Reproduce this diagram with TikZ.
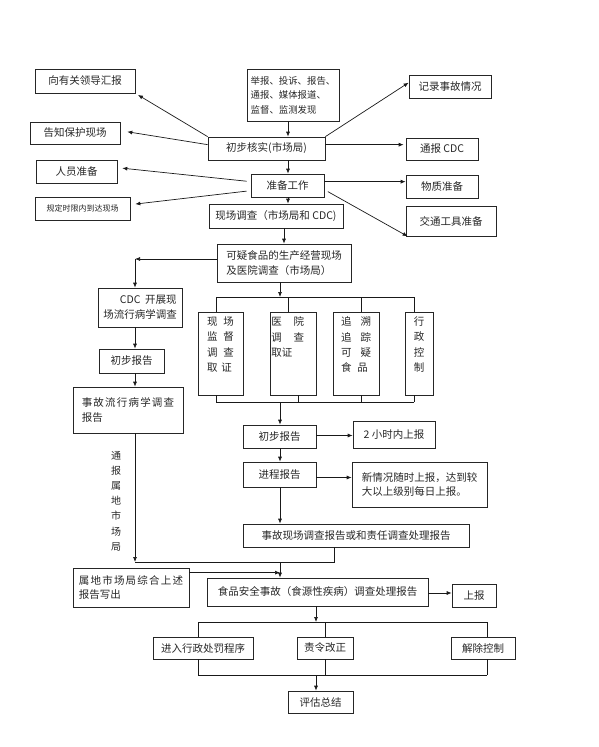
\documentclass[tikz,border=0pt]{standalone}
\usepackage{fontspec}
\setmainfont{Noto Sans CJK SC}
\usetikzlibrary{arrows.meta}
\newcommand\lsp[1]{\lspaux#1\relax}
\def\lspaux#1{\ifx#1\relax\else#1\hspace{1.2pt}\expandafter\lspaux\fi}
\tikzset{
  box/.style={draw=black!85, line width=0.7pt, inner sep=2pt, text=black!85,
    font=\fontsize{10.5}{14.5}\selectfont},
  txt/.style={inner sep=0pt, text=black!85, font=\fontsize{10.5}{15.3}\selectfont},
  arr/.style={draw=black!90, line width=0.7pt, -{Latex[length=5pt,width=4pt]}},
  ln/.style={draw=black!90, line width=0.7pt},
}
\newcommand\bx[6][]{\node[box,minimum width={(#4-#2)*1pt},minimum height={(#5-#3)*1pt},#1] (#6) at ({(#2+#4)/2},{(#3+#5)/2})}
\begin{document}
\begin{tikzpicture}[x=1pt,y=-1pt]
\useasboundingbox (0,0) rectangle (598,747);
% column coordinates
\coordinate (c288) at (288,0);
\coordinate (c284) at (284,0);
\coordinate (c280) at (280,0);
\coordinate (c135) at (135,0);
\coordinate (c316) at (316,0);
% top section
\bx{35}{69}{135}{93}{lead}{向有关领导汇报};
\bx[align=left,font=\fontsize{9.4}{14.5}\selectfont]{247}{69}{339}{121}{src}{举报、投诉、报告、\\通报、媒体报道、\\监督、监测发现};
\bx{409}{75}{491}{98}{rec}{记录事故情况};
\bx{30}{122}{120}{144}{prot}{告知保护现场};
\bx{208}{137}{325}{160}{verify}{初步核实(市场局)};
\bx{406}{138}{478}{160}{cdc}{通报 CDC};
\bx{36}{160}{117}{183}{staff}{人员准备};
\bx{251}{174}{324}{197}{prep}{准备工作};
\bx{406}{175}{478}{198}{mat}{物质准备};
\bx[font=\fontsize{8}{10}\selectfont]{35}{197}{130}{220}{arrive}{规定时限内到达现场};
\bx{209}{204}{343}{228}{survey}{现场调查（市场局和 CDC)};
\bx{406}{206}{496}{236}{trans}{交通工具准备};
\bx[align=left]{217}{244}{351}{282}{susp}{可疑食品的生产经营现场\\及医院调查（市场局）};
% left column
\bx[align=right]{98}{288}{182}{327}{cdcinv}{CDC\ \ 开展现\\场流行病学调查};
\bx{99}{349}{164}{373}{pre1}{初步报告};
\bx[align=left]{73}{387}{183}{433}{epi}{\lsp{事故流行病学调查}\\报告};
% four vertical boxes
\bx{198}{312}{243}{395}{v1}{};
\bx{270}{312}{316}{395}{v2}{};
\bx{333}{312}{379}{395}{v3}{};
\bx{405}{312}{433}{395}{v4}{};
\node[txt,align=left,anchor=north] (v1t) at ([yshift=-5pt]v1.north) {现\hspace{6pt}场\\监\hspace{6pt}督\\调\hspace{6pt}查\\取\hspace{4pt}证};
\node[txt,align=left,anchor=north] (v2t) at ([yshift=-5pt]v2.north) {医\hspace{12pt}院\\调\hspace{12pt}查\\取证\hspace{22.5pt}\mbox{}};
\node[txt,align=left,anchor=north] (v3t) at ([yshift=-5pt]v3.north) {追\hspace{9pt}溯\\追\hspace{9pt}踪\\可\hspace{9pt}疑\\食\hspace{6pt}品};
\node[txt,align=center,anchor=north] (v4t) at ([yshift=-5pt]v4.north) {行\\政\\控\\制};
% middle
\bx{243}{425}{316}{448}{pre2}{初步报告};
\bx{353}{421}{435}{448}{twoh}{2 小时内上报};
\bx{243}{462}{316}{487}{prog}{进程报告};
\bx[align=left]{352}{462}{487}{507}{newinfo}{新情况随时上报，达到较\\大以上级别每日上报。};
\bx{243}{524}{469}{547}{accrep}{事故现场调查报告或和责任调查处理报告};
\node[txt,align=center,font=\fontsize{10}{15.2}\selectfont] (vt) at (116,501) {通\\报\\属\\地\\市\\场\\局};
% bottom
\bx[align=left]{73}{568}{189}{607}{local}{\lsp{属地市场局综合上述}\\报告写出};
\bx{207}{578}{428}{606}{final}{食品安全事故（食源性疾病）调查处理报告};
\bx{452}{584}{496}{607}{up}{上报};
\bx{153}{637}{253}{659}{penal}{进入行政处罚程序};
\bx{297}{637}{353}{659}{correct}{责令改正};
\bx{451}{637}{515}{659}{release}{解除控制};
\bx{288}{691}{353}{713}{eval}{评估总结};
% ---------- connectors: top ----------
\draw[arr] (src.south -| c288) -- (verify.north -| c288);
\draw[arr] (verify.south -| c288) -- (prep.north -| c288);
\draw[arr] (prep.south -| c288) -- (survey.north -| c288);
\draw[arr] (survey.south -| c284) -- (susp.north -| c284);
\draw[arr, shorten >=3pt] (verify.north west) -- (lead.south east);
\draw[arr, shorten >=7pt] ([yshift=-8pt]verify.north west) -- ([yshift=-9pt]prot.north east);
\draw[arr, shorten <=4pt, shorten >=5pt] ([yshift=-8pt]prep.north west) -- ([yshift=-8pt]staff.north east);
\draw[arr, shorten <=4pt, shorten >=5pt] ([yshift=-17pt]prep.north west) -- ([yshift=-8pt]arrive.north east);
\draw[arr] (verify.north east) -- ([yshift=-8pt]rec.north west);
\draw[arr, shorten >=2pt] ([yshift=-8pt]verify.north east) -- ([yshift=-8pt]verify.north east -| cdc.west);
\draw[arr] ([yshift=-8pt]prep.north east) -- ([yshift=-8pt]prep.north east -| mat.west);
\draw[arr, shorten <=4pt] ([yshift=-16pt]prep.north east) -- ([xshift=2pt]trans.south west);
% ---------- susp to left column ----------
\coordinate (lc) at (135,259);
\draw[arr] (susp.west |- lc) -- (lc);
\draw[arr] (lc) -- (cdcinv.north -| lc);
\draw[arr] (cdcinv.south -| c135) -- (pre1.north -| c135);
\draw[arr] (pre1.south -| c135) -- (epi.north -| c135);
% ---------- four-box bracket ----------
\coordinate (tb1) at (216,297);
\coordinate (tb2) at (414,297);
\coordinate (bb1) at (216,402);
\coordinate (bb2) at (414,402);
\draw[arr] (susp.south -| c280) -- (tb1 -| c280);
\draw[ln] (tb1) -- (tb2);
\draw[ln] (tb1) -- (v1.north -| tb1);
\draw[ln] (288,297) -- (v2.north -| 288,0);
\draw[ln] (361,297) -- (v3.north -| 361,0);
\draw[ln] (tb2) -- (v4.north -| tb2);
\draw[ln] (bb1) -- (bb2);
\draw[ln] (bb1) -- (v1.south -| bb1);
\draw[ln] (298,402) -- (v2.south -| 298,0);
\draw[ln] (361,402) -- (v3.south -| 361,0);
\draw[ln] (bb2) -- (v4.south -| bb2);
% ---------- middle ----------
\draw[arr] (bb1 -| c280) -- (pre2.north -| c280);
\draw[arr] ([yshift=1pt]pre2.east) -- ([yshift=1pt]pre2.east -| twoh.west);
\draw[arr] ([yshift=-3pt]prog.east) -- ([yshift=-3pt]prog.east -| newinfo.west);
\draw[arr] (pre2.south -| c280) -- (prog.north -| c280);
\draw[arr] (prog.south -| c280) -- (accrep.north -| c280);
\coordinate (j) at (280,562);
\coordinate (jr) at (334,562);
\draw[ln] (accrep.south -| jr) -- (jr) -- (j -| c135);
\draw[arr] (epi.south -| c135) -- (j -| c135);
\draw[arr] (j) -- (final.north -| j);
\draw[arr] ([yshift=-5pt]local.north east) -- ([yshift=-5pt]local.north east -| j);
\draw[arr] ([yshift=-1pt]final.east) -- ([yshift=-1pt]final.east -| up.west);
% ---------- bottom ----------
\coordinate (b1) at (198,622);
\coordinate (b2) at (487,622);
\coordinate (d1) at (198,675);
\coordinate (d2) at (487,675);
\draw[arr] (final.south -| c316) -- (b1 -| c316);
\draw[ln] (b1) -- (b2);
\draw[ln] (b1) -- (penal.north -| b1);
\draw[ln] (325,622) -- (correct.north -| 325,0);
\draw[ln] (b2) -- (release.north -| b2);
\draw[ln] (d1) -- (d2);
\draw[ln] (d1) -- (penal.south -| d1);
\draw[ln] (325,675) -- (correct.south -| 325,0);
\draw[ln] (d2) -- (release.south -| d2);
\draw[arr] (d1 -| c316) -- (eval.north -| c316);
\end{tikzpicture}
\end{document}
